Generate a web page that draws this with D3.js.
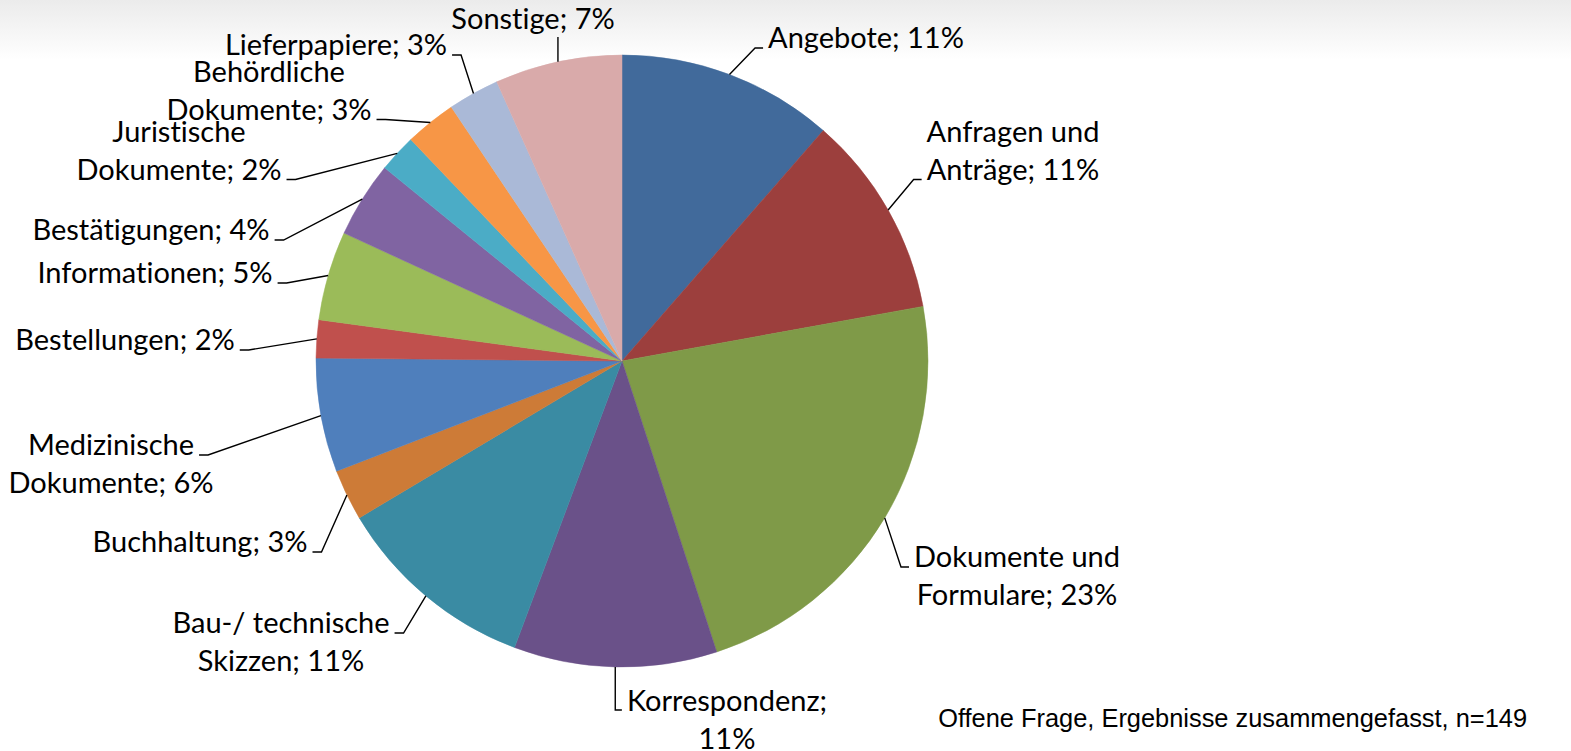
<!DOCTYPE html>
<html>
<head>
<meta charset="utf-8">
<script src="https://cdn.jsdelivr.net/npm/d3@7"></script>
<style>
  html, body { margin: 0; padding: 0; background: #fff; overflow: hidden; }
  .lbl { font-family: Lato, "Open Sans", sans-serif; font-size: 29px; fill: #000; font-variant-ligatures: none; }
  .note { font-family: "Liberation Sans", Arial, sans-serif; font-size: 25.4px; fill: #000; }
</style>
</head>
<body>
<div id="chart"></div>
<script>

// categories, clockwise from 12 o'clock
const categories = [
	["Angebote"],
	["Anfragen und", "Anträge"],
	["Dokumente und", "Formulare"],
	["Korrespondenz;", ""],
	["Bau-/ technische", "Skizzen"],
	["Buchhaltung"],
	["Medizinische", "Dokumente"],
	["Bestellungen"],
	["Informationen"],
	["Bestätigungen"],
	["Juristische", "Dokumente"],
	["Behördliche", "Dokumente"],
	["Lieferpapiere"],
	["Sonstige"]
];

// share in percent
const shares = [11.4, 10.7, 22.8, 10.7, 10.7, 2.7, 6.0, 2.0, 4.7, 4.0, 2.0, 2.7, 2.7, 6.7];

const colors = ["#416a9b", "#9c3f3d", "#7f9a48", "#6a5189", "#3a8ba3", "#cd7b37",
	"#4f7fbc", "#c0504d", "#9bbb59", "#8064a2", "#4bacc6", "#f79646", "#aab9d7", "#d9aaaa"];

const footnote = "Offene Frage, Ergebnisse zusammengefasst, n=149";

// label placement (offset of label centre / first baseline from pie centre)
const labelLayout = [
	{ dx: 244, dy: -313, attach: 0, side: "R" },
	{ dx: 391, dy: -219, attach: 1, side: "R" },
	{ dx: 395, dy: 206, attach: 0, side: "R" },
	{ dx: 105, dy: 350, attach: 0, side: "down" },
	{ dx: -341, dy: 272, attach: 0, side: "L" },
	{ dx: -422, dy: 191, attach: 0, side: "L" },
	{ dx: -511, dy: 94, attach: 0, side: "L" },
	{ dx: -497, dy: -11, attach: 0, side: "L" },
	{ dx: -467, dy: -78, attach: 0, side: "L" },
	{ dx: -471, dy: -121, attach: 0, side: "L" },
	{ dx: -443, dy: -219, attach: 1, side: "L" },
	{ dx: -353, dy: -279, attach: 1, side: "L" },
	{ dx: -286, dy: -306, attach: 0, side: "L" },
	{ dx: -89, dy: -332, attach: 0, side: "up" }
];

const width = 1571, height = 751;
const cx = 622, cy = 361, radius = 306;
const lineH = 37.5;

const svg = d3.select("#chart").append("svg")
	.attr("width", width)
	.attr("height", height);

// faint grey band along the top
const grad = svg.append("defs").append("linearGradient")
	.attr("id", "topfade")
	.attr("x1", 0).attr("y1", 0).attr("x2", 0).attr("y2", 1);
grad.append("stop").attr("offset", "0%").attr("stop-color", "#ebebeb");
grad.append("stop").attr("offset", "100%").attr("stop-color", "#ffffff");
svg.append("rect")
	.attr("width", width)
	.attr("height", 60)
	.attr("fill", "url(#topfade)");

const g = svg.append("g")
	.attr("transform", "translate(" + cx + "," + cy + ")");

const pie = d3.pie()
	.sort(null)
	.value(d => d)
	.startAngle(0)
	.endAngle(2 * Math.PI);

const arcs = pie(shares);

const arc = d3.arc()
	.innerRadius(0)
	.outerRadius(radius);

const edge = d3.arc()
	.innerRadius(radius)
	.outerRadius(radius);

g.selectAll(".slice")
	.data(arcs)
	.enter()
	.append("path")
	.attr("class", "slice")
	.attr("d", arc)
	.attr("fill", (d, i) => colors[i])
	.attr("stroke", (d, i) => colors[i])
	.attr("stroke-width", 0.5);

// labels + leader lines
const total = d3.sum(shares);

arcs.forEach((a, i) => {
	let lay = labelLayout[i];
	let pct = Math.round(a.value / total * 100) + "%";
	let lines = categories[i].slice();
	let last = lines.length - 1;
	if (lines[last] === "") lines[last] = pct;
	else lines[last] = lines[last] + "; " + pct;

	let boxes = [];
	lines.forEach((t, j) => {
		let txt = g.append("text")
			.attr("class", "lbl")
			.attr("x", lay.dx)
			.attr("y", lay.dy + j * lineH)
			.attr("text-anchor", "middle")
			.text(t);
		boxes.push(txt.node().getBBox());
	});

	let start = edge.centroid(a);
	let box = boxes[lay.attach];
	let y = lay.dy + lay.attach * lineH;
	let pts;
	if (lay.side === "L") {
		let tip = [box.x + box.width + 5, y];
		pts = [start, [tip[0] + 9, y], tip];
	} else if (lay.side === "R") {
		let tip = [box.x - 5, y];
		pts = [start, [tip[0] - 8, y], tip];
	} else if (lay.side === "down") {
		let tip = [box.x - 5, y - 1];
		pts = [start, [start[0], y - 1], tip];
	} else {
		pts = [start, [start[0], lay.dy + 8]];
	}

	g.append("path")
		.attr("d", d3.line()(pts))
		.attr("fill", "none")
		.attr("stroke", "#000")
		.attr("stroke-width", 1.4);
});

svg.append("text")
	.attr("class", "note")
	.attr("x", 1527)
	.attr("y", 727)
	.attr("text-anchor", "end")
	.text(footnote);

</script>
</body>
</html>
